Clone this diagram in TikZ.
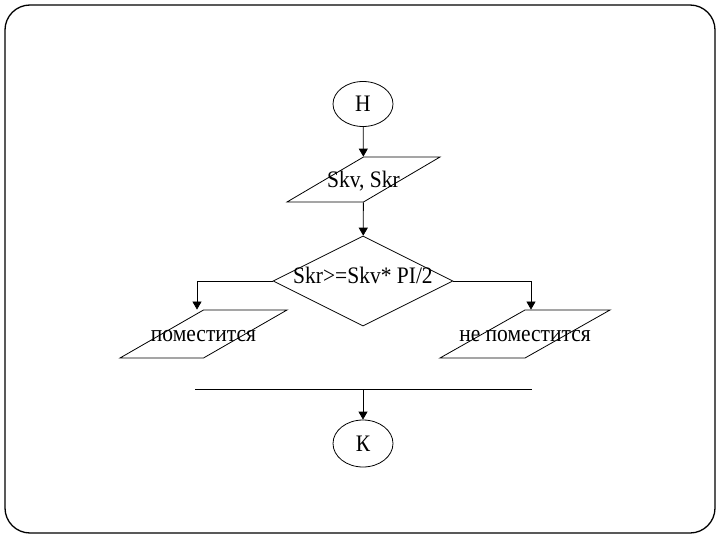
\documentclass[tikz,border=0pt]{standalone}
\usepackage{fontspec}
\setmainfont{Liberation Serif}
\usetikzlibrary{shapes.geometric,arrows.meta,calc}
\newcommand{\placetext}[2]{\makebox[0pt]{\raisebox{-#1pt}[1pt][0pt]{\scalebox{1}[1.1]{#2}}}}
\begin{document}
\begin{tikzpicture}[x=1pt,y=-1pt,
  font=\fontsize{21.5}{25}\selectfont,
  line width=0.8pt,
  term/.style={draw,ellipse,minimum width=60pt,minimum height=45pt,inner sep=0pt},
  io/.style={draw,trapezium,trapezium left angle=57,trapezium right angle=123,
    trapezium stretches=true,inner sep=0pt},
  cond/.style={draw,diamond,minimum width=180pt,minimum height=90pt,inner sep=0pt},
  arr/.style={-{Triangle[width=9pt,length=8pt]}},
  frame/.style={draw,line width=1.3pt,rounded corners=25pt}]
\useasboundingbox (0,0) rectangle (720,540);
\draw[frame] (5,5) rectangle (715,533);
\node[term] (start) at (363,104) {\placetext{7}{Н}};
\node[io,minimum width=153pt,minimum height=45pt] (in1) at (363.5,179.5) {\placetext{8}{Skv, Skr}};
\node[cond] (c1) at (363,281) {\placetext{1.5}{Skr>=Skv* PI/2}};
\node[io,minimum width=167pt,minimum height=48pt] (out1) at (203.5,334) {\placetext{7}{поместится}};
\node[io,minimum width=170pt,minimum height=48pt] (out2) at (525,334) {\placetext{7}{не поместится}};
\coordinate (jl) at (195,389);
\coordinate (jr) at (532,389);
\coordinate (jm) at (363,389);
\node[term,minimum height=47pt] (end) at (363,443.5) {\placetext{7}{К}};
\draw[arr] (start) -- (in1);
\draw[arr] (in1) -- (c1);
\draw[arr] (c1.west) -| ([xshift=-6.5pt]out1.north);
\draw[arr] (c1.east) -| ([xshift=6pt]out2.north);
\draw (jl) -- (jr);
\draw[arr] (jm) -- (end);
\end{tikzpicture}
\end{document}
